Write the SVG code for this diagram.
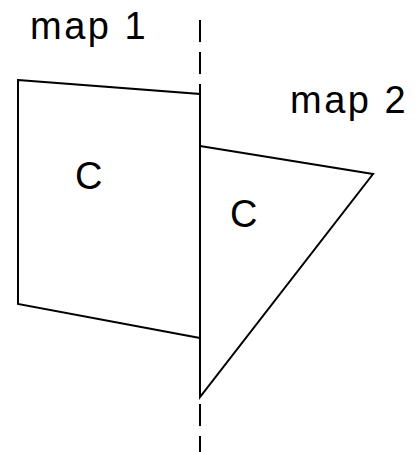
<svg xmlns="http://www.w3.org/2000/svg" width="418" height="452" viewBox="0 0 418 452">
<style>
.shape{fill:none;stroke:#000;stroke-width:2;stroke-linejoin:miter}
.lbl{font-family:"Liberation Sans",Arial,sans-serif;font-size:38px;fill:#000;letter-spacing:2.5px}
.dash{stroke:#000;stroke-width:2;stroke-dasharray:22 10;fill:none}
</style>
<rect width="418" height="452" fill="#fff"/>
<g id="connectors">
<line class="dash" x1="200" y1="20" x2="200" y2="452"/>
</g>
<g id="map1-label"><text class="lbl" x="30" y="39">map 1</text></g>
<g id="map2-label"><text class="lbl" x="290" y="113">map 2</text></g>
<g id="quad">
<polygon class="shape" points="18,80 200,94 200,338 18,304"/>
<text class="lbl" x="75" y="189">C</text>
</g>
<g id="triangle">
<polygon class="shape" points="200,146 373,174 200,397"/>
<text class="lbl" x="230" y="227">C</text>
</g>
</svg>
